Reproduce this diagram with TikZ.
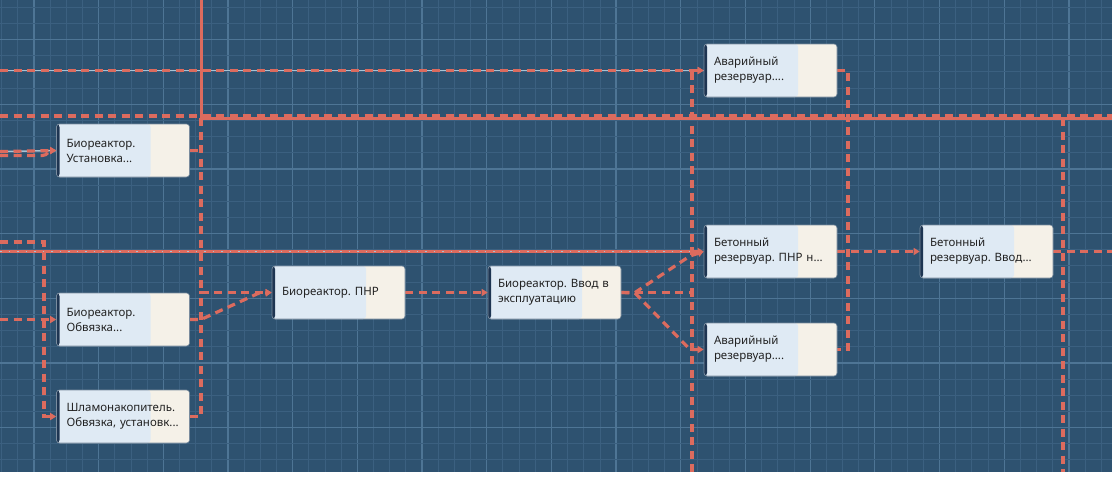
\documentclass[tikz,border=0pt]{standalone}
\usepackage{fontspec}
\setmainfont{Noto Sans}
\frenchspacing
\usetikzlibrary{arrows.meta}
\definecolor{bg}{HTML}{2E5270}
\definecolor{gminor}{HTML}{3B6080}
\definecolor{gmajor}{HTML}{4E7595}
\definecolor{lred}{HTML}{DC6B5E}
\definecolor{lite}{HTML}{A9C2D2}
\definecolor{blueL}{HTML}{DFEAF4}
\definecolor{cream}{HTML}{F5F1E8}
\definecolor{navy}{HTML}{1E3552}
\definecolor{nodeedge}{HTML}{7A8C9E}
\definecolor{txt}{HTML}{222222}
\pgfdeclarelayer{back}
\pgfsetlayers{back,main}
\tikzset{
  task/.style={rectangle, rounded corners=3pt, draw=nodeedge, line width=0.6pt,
    minimum width=133pt, minimum height=53pt, text width=113pt,
    inner xsep=10pt, inner ysep=0pt, align=left,
    font=\fontsize{11.5}{15}\selectfont, text=txt,
    path picture={
      \fill[cream] (path picture bounding box.south west) rectangle (path picture bounding box.north east);
      \fill[blueL] (path picture bounding box.south west) rectangle ([xshift=94pt]path picture bounding box.north west);
      \fill[navy] (path picture bounding box.south west) rectangle ([xshift=3pt]path picture bounding box.north west);
    }},
  dsh/.style={draw=lred, line width=3.2pt, dash pattern=on 8pt off 5.5pt},
  liteline/.style={draw=lite, line width=1.5pt},
  sol/.style={draw=lred, line width=3pt},
  dots/.style={draw=lite, line width=1.4pt, dash pattern=on 1.5pt off 7pt},
  tip/.style={-{Triangle[length=6pt,width=7pt]}},
}
\begin{document}
\begin{tikzpicture}[x=1pt,y=-1pt]
\useasboundingbox (0,0) rectangle (1112,477);

% nodes
\node[task] (ust) at (123,150.5) {Биореактор.\\Установка...};
\node[task] (obv) at (123,319.5) {Биореактор.\\Обвязка...};
\node[task] (shl) at (123,416.5) {Шламонакопитель.\\Обвязка, установк...};
\node[task] (pnr) at (338.5,292.5) {Биореактор. ПНР};
\node[task] (vvod) at (554.5,292.5) {Биореактор. Ввод в\\эксплуатацию};
\node[task] (av1) at (770.5,70.5) {Аварийный\\резервуар....};
\node[task] (bpnr) at (770.5,251.5) {Бетонный\\резервуар. ПНР н...};
\node[task] (av2) at (770.5,349.5) {Аварийный\\резервуар....};
\node[task] (bvvod) at (986.5,251.5) {Бетонный\\резервуар. Ввод...};

% free ends
\coordinate (l70) at (0,70.5);
\coordinate (l116) at (0,116);
\coordinate (r116) at (1112,116);
\coordinate (t201) at (201,0);
\coordinate (r118) at (1112,118);
\coordinate (j201) at (201,118);
\coordinate (l151) at (0,151.5);
\coordinate (l155) at (0,155.5);
\coordinate (l242) at (0,242);
\coordinate (l251) at (0,251.5);
\coordinate (l319) at (0,319.5);
\coordinate (b692) at (692,472);
\coordinate (r252) at (1112,251.5);
\coordinate (t1063) at (1063,118);
\coordinate (b1063) at (1063,472);

\begin{pgfonlayer}{back}
\fill[white] (0,0) rectangle (1112,477);
\fill[bg] (0,0) rectangle (1112,472);
\begin{scope}
\clip (0,0) rectangle (1112,472);
\foreach \k in {0,...,69}{
  \pgfmathsetmacro{\xx}{1.66+16.17*\k}
  \pgfmathtruncatemacro{\mm}{mod(\k,4)}
  \ifnum\mm=2
    \draw[gmajor, line width=1.3pt] (\xx,0) -- (\xx,472);
  \else
    \draw[gminor, line width=0.9pt] (\xx,0) -- (\xx,472);
  \fi
}
\foreach \k in {0,...,30}{
  \pgfmathsetmacro{\yy}{7.16+16.17*\k}
  \pgfmathtruncatemacro{\mm}{mod(\k,4)}
  \ifnum\mm=2
    \draw[gmajor, line width=1.3pt] (0,\yy) -- (1112,\yy);
  \else
    \draw[gminor, line width=0.9pt] (0,\yy) -- (1112,\yy);
  \fi
}
\end{scope}

% top long line into av1
\draw[liteline] (l70) -- (av1.west);
\draw[dsh, tip] (l70) -- (av1.west);
% y=116/118 lines
\draw[sol] (t201) -- (j201) -- (r118);
\draw[dsh] (l116) -- (r116);
% x=201 vertical
\draw[dsh] (j201) -- (201,292.5);
% into ust
\draw[liteline] (l151) -- (ust.west);
\draw[dsh, tip] (l151) -- (ust.west);
\draw[dsh, tip] (l155) -- (42,155.5) .. controls (48,155.5) and (48,150.5) .. (ust.west);
% solid line at y=251
\draw[sol, tip] (l251) -- (bpnr.west);
\draw[dots] (l251) -- ([xshift=-8pt]bpnr.west);
% into shl
\draw[dsh, tip] (l242) -- (44,242) -- (44,416.5) -- (shl.west);
% into obv
\draw[dsh, tip] (l319) -- (obv.west);
% into pnr
\draw[dsh, tip] (obv.east) -- (201,319.5) -- (258,293.5) -- (pnr.west);
\draw[dsh, tip] (shl.east) -- (201,416.5) -- (201,292.5) -- (pnr.west);
\draw[dsh] (ust.east) -- (201,150.5);
% pnr -> vvod
\draw[dsh, tip] (pnr.east) -- (vvod.west);
% from vvod
\draw[dsh, tip] (vvod.east) -- (692,292.5) -- (692,70.5) -- (av1.west);
\draw[dsh] (b692) -- (692,292.5);
\draw[dsh, tip] (vvod.east) -- (635,292.5) -- (690,256) -- (bpnr.west);
\draw[dsh, tip] (vvod.east) -- (635,293) -- (690,349.5) -- (av2.west);
% av1 -> av2 (right side)
\draw[dsh] (av1.east) -- (848,70.5) -- (848,349.5) -- (av2.east);
% bpnr -> bvvod
\draw[dsh, tip] (bpnr.east) -- (bvvod.west);
\draw[dsh] (bvvod.east) -- (r252);
\draw[dsh] (t1063) -- (b1063);
\end{pgfonlayer}
\end{tikzpicture}
\end{document}
